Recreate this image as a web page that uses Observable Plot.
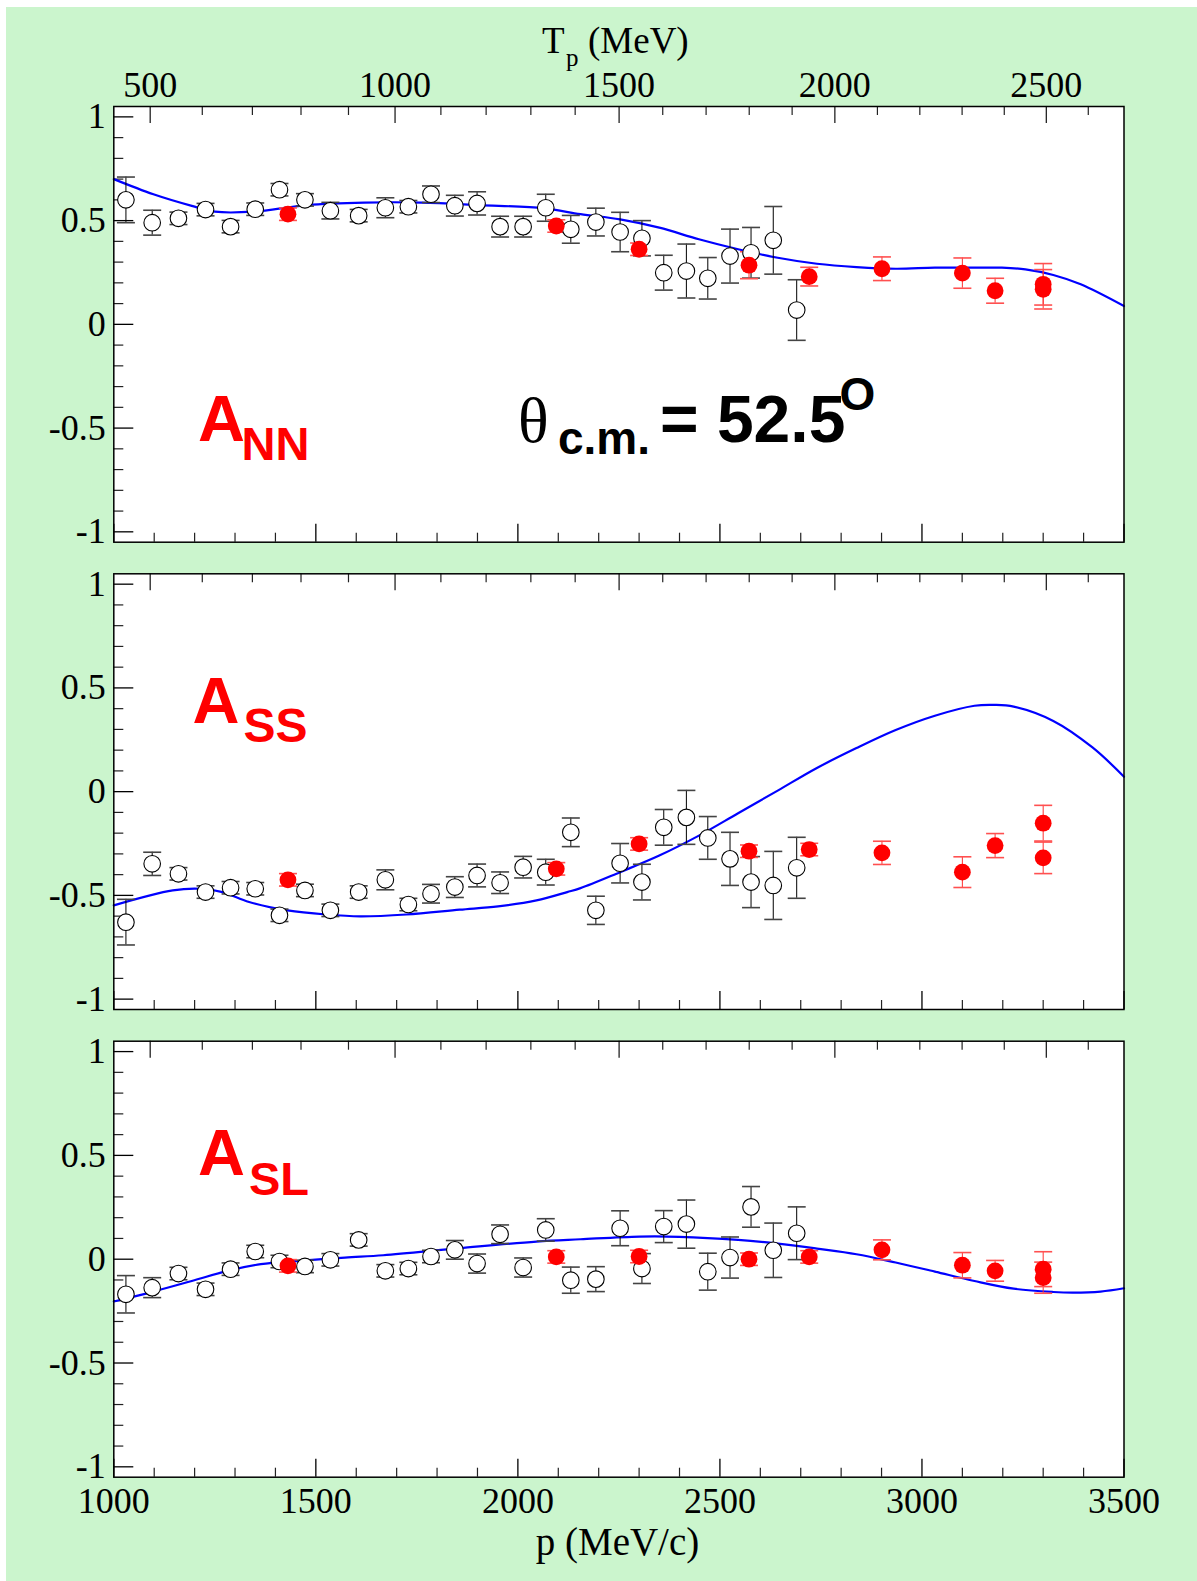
<!DOCTYPE html>
<html><head><meta charset="utf-8">
<script src="https://cdn.jsdelivr.net/npm/d3@7"></script>
<script src="https://cdn.jsdelivr.net/npm/@observablehq/plot@0.6"></script>
<style>
body{margin:0;background:#fff;}
#page{position:relative;width:1197px;height:1581px;overflow:hidden;background:#fff;}
#bg{position:absolute;left:6px;top:7px;right:0;bottom:0;background:#cbf5cd;}
.panel{position:absolute;left:0;}
</style></head><body>
<div id="page"><div id="bg"></div></div>
<script>
// ---------- data ----------
const pBlack = [1030,1095,1160,1227,1289,1350,1410,1473,1536,1606,1672,1729,1785,1844,1899,1956,2013,2069,2131,2193,2253,2307,2361,2417,2470,2525,2577,2632,2690];
const pRed = [1431,2095,2300,2572,2721,2901,3100,3181,3300,3300];

const annBlack = [0.600,0.490,0.511,0.553,0.471,0.555,0.649,0.600,0.548,0.524,0.562,0.567,0.627,0.572,0.583,0.471,0.471,0.562,0.458,0.493,0.445,0.415,0.249,0.257,0.222,0.329,0.345,0.405,0.069];
const annBlackErr = [0.11,0.06,0.03,0.03,0.03,0.03,0.03,0.03,0.04,0.03,0.048,0.03,0.04,0.05,0.056,0.05,0.05,0.065,0.067,0.067,0.095,0.085,0.084,0.13,0.10,0.13,0.122,0.163,0.146];
const annRed = [0.531,0.474,0.362,0.285,0.230,0.268,0.247,0.162,0.193,0.169];
const annRedErr = [0.03,0.03,0.03,0.065,0.045,0.057,0.073,0.06,0.10,0.095];

const assBlack = [-0.629,-0.348,-0.396,-0.484,-0.463,-0.468,-0.596,-0.476,-0.572,-0.484,-0.425,-0.544,-0.492,-0.460,-0.404,-0.439,-0.364,-0.388,-0.196,-0.572,-0.345,-0.436,-0.172,-0.124,-0.223,-0.324,-0.436,-0.452,-0.367];
const assBlackErr = [0.11,0.056,0.03,0.03,0.03,0.03,0.03,0.03,0.03,0.03,0.048,0.03,0.045,0.05,0.055,0.052,0.052,0.062,0.069,0.068,0.095,0.086,0.086,0.13,0.103,0.128,0.123,0.164,0.147];
const assRed = [-0.425,-0.372,-0.252,-0.287,-0.279,-0.295,-0.388,-0.260,-0.152,-0.319];
const assRedErr = [0.03,0.03,0.03,0.03,0.03,0.056,0.074,0.058,0.086,0.076];

const aslBlack = [-0.169,-0.137,-0.069,-0.145,-0.048,0.037,-0.011,-0.035,-0.003,0.093,-0.056,-0.045,0.013,0.045,-0.021,0.120,-0.040,0.141,-0.101,-0.096,0.149,-0.045,0.157,0.169,-0.060,0.008,0.252,0.043,0.125];
const aslBlackErr = [0.09,0.048,0.03,0.03,0.03,0.03,0.03,0.03,0.03,0.03,0.03,0.03,0.03,0.045,0.046,0.045,0.046,0.054,0.063,0.06,0.084,0.072,0.077,0.116,0.089,0.099,0.098,0.131,0.127];
const aslRed = [-0.032,0.011,0.013,0.000,0.011,0.045,-0.029,-0.056,-0.048,-0.089];
const aslRedErr = [0.03,0.03,0.03,0.03,0.03,0.048,0.061,0.05,0.084,0.075];

const annCurveP = [1000,1098,1193,1250,1345,1478,1620,1762,1904,2065,2155,2253,2350,2448,2545,2643,2740,2838,2935,3032,3130,3198,3256,3325,3393,3500];
const annCurveV = [0.70,0.627,0.571,0.543,0.543,0.575,0.587,0.587,0.575,0.559,0.531,0.506,0.466,0.41,0.362,0.321,0.292,0.276,0.268,0.273,0.273,0.273,0.265,0.238,0.193,0.088];
const assCurveP = [1000,1146,1212,1269,1335,1430,1525,1610,1724,1856,1951,2046,2122,2155,2253,2350,2448,2545,2643,2740,2838,2935,3032,3130,3178,3227,3325,3422,3500];
const assCurveV = [-0.548,-0.476,-0.468,-0.484,-0.532,-0.572,-0.592,-0.601,-0.592,-0.569,-0.553,-0.524,-0.484,-0.465,-0.388,-0.308,-0.212,-0.104,0.005,0.114,0.21,0.297,0.366,0.414,0.418,0.41,0.341,0.213,0.072];
const aslCurveP = [1000,1098,1193,1288,1364,1459,1572,1667,1856,2046,2155,2301,2399,2545,2643,2740,2838,2935,3032,3130,3227,3325,3374,3442,3500];
const aslCurveV = [-0.204,-0.156,-0.105,-0.053,-0.024,-0.008,0.008,0.019,0.053,0.085,0.096,0.109,0.108,0.093,0.075,0.051,0.024,-0.016,-0.06,-0.105,-0.142,-0.158,-0.161,-0.156,-0.14];

// ticks
const yMajor = [-1,-0.5,0,0.5,1];
const yTickLabels = ["-1","-0.5","0","0.5","1"];
const yMinor = [-0.9,-0.8,-0.7,-0.6,-0.4,-0.3,-0.2,-0.1,0.1,0.2,0.3,0.4,0.6,0.7,0.8,0.9];
const pMajor = [1000,1500,2000,2500,3000,3500];
const pTickLabels = ["1000","1500","2000","2500","3000","3500"];
const pMinor = d3.range(1100,3500,100).filter(v => v % 500 !== 0);
const tMajor = [500,1000,1500,2000,2500];
const tTickLabels = ["500","1000","1500","2000","2500"];
const tMinor = d3.range(600,2700,100).filter(v => v % 500 !== 0);

// ---------- layout ----------
const W = 1197, ML = 113.3, MR = 1197 - 1123.5;
const MP = 938.27; // proton mass, for Tp -> p
const pOfT = T => Math.sqrt((T + MP) ** 2 - MP * MP);
const SERIF = "'Liberation Serif','Times New Roman',serif";
const SANS = "'Liberation Sans',Arial,sans-serif";

const capSymbol = {draw(ctx, size) { const w = Math.sqrt(size / Math.PI); ctx.moveTo(-w, 0); ctx.lineTo(w, 0); }};

function makePanel({top, height, marginTop, marginBottom, black, blackErr, red, redErr, cp, cv, showTop, showBottom}) {
  const innerH = height - marginTop - marginBottom;
  const innerW = W - ML - MR;
  const bd = pBlack.map((p, i) => ({p, v: black[i], e: blackErr[i]}));
  const rd = pRed.map((p, i) => ({p, v: red[i], e: redErr[i]}));
  const cd = cp.map((p, i) => ({p, v: cv[i]}));
  const marks = [
    Plot.frame({fill: "white", stroke: null}),
    Plot.tickY(yMajor, {y: d => d, stroke: "black", strokeWidth: 1.3, insetRight: innerW - 20}),
    Plot.tickY(yMinor, {y: d => d, stroke: "#222", strokeWidth: 1.2, insetRight: innerW - 10}),
    Plot.tickX(pMajor, {x: d => d, stroke: "black", strokeWidth: 1.3, insetTop: innerH - 18}),
    Plot.tickX(pMinor, {x: d => d, stroke: "#222", strokeWidth: 1.2, insetTop: innerH - 9}),
    Plot.tickX(tMajor, {x: pOfT, stroke: "#222", strokeWidth: 1.3, insetBottom: innerH - 17}),
    Plot.tickX(tMinor, {x: pOfT, stroke: "#222", strokeWidth: 1.2, insetBottom: innerH - 9}),
    Plot.line(cd, {x: "p", y: "v", stroke: "#0000ff", strokeWidth: 2.2, curve: "catmull-rom"}),
    Plot.ruleX(bd, {x: "p", y1: d => d.v - d.e, y2: d => d.v + d.e, stroke: "black", strokeWidth: 1}),
    Plot.dot(bd, {x: "p", y: d => d.v + d.e, symbol: capSymbol, r: 9, fill: "none", stroke: "#444", strokeWidth: 1.6}),
    Plot.dot(bd, {x: "p", y: d => d.v - d.e, symbol: capSymbol, r: 9, fill: "none", stroke: "#444", strokeWidth: 1.6}),
    Plot.ruleX(rd, {x: "p", y1: d => d.v - d.e, y2: d => d.v + d.e, stroke: "#ff3030", strokeWidth: 1}),
    Plot.dot(rd, {x: "p", y: d => d.v + d.e, symbol: capSymbol, r: 9, fill: "none", stroke: "#ff5050", strokeWidth: 1.6}),
    Plot.dot(rd, {x: "p", y: d => d.v - d.e, symbol: capSymbol, r: 9, fill: "none", stroke: "#ff5050", strokeWidth: 1.6}),
    Plot.dot(bd, {x: "p", y: "v", r: 8.3, fill: "white", stroke: "black", strokeWidth: 1.1}),
    Plot.dot(rd, {x: "p", y: "v", r: 8.4, fill: "#ff0000", stroke: null}),
    Plot.frame({stroke: "black", strokeWidth: 1.5}),
    Plot.text(yMajor, {y: d => d, text: (d, i) => yTickLabels[i], frameAnchor: "left", textAnchor: "end", lineAnchor: "middle", dx: -8, fontSize: 36, fontFamily: SERIF, fill: "black"})
  ];
  if (showTop) marks.push(Plot.text(tMajor, {x: pOfT, text: (d, i) => tTickLabels[i], frameAnchor: "top", lineAnchor: "bottom", dy: -10, fontSize: 36, fontFamily: SERIF, fill: "black"}));
  if (showBottom) marks.push(Plot.text(pMajor, {x: d => d, text: (d, i) => pTickLabels[i], frameAnchor: "bottom", lineAnchor: "bottom", dy: 36, fontSize: 36, fontFamily: SERIF, fill: "black"}));
  const svg = Plot.plot({
    width: W, height, marginLeft: ML, marginRight: MR, marginTop, marginBottom,
    style: {background: "transparent", overflow: "visible"},
    x: {domain: [1000, 3500], axis: null},
    y: {domain: [-1.05, 1.05], axis: null},
    marks
  });
  svg.classList.add("panel");
  svg.style.top = top + "px";
  svg.style.position = "absolute";
  document.getElementById("page").appendChild(svg);
  return svg;
}

function addText(svg, items) {
  const g = d3.select(svg).append("g");
  for (const it of items) {
    g.append("text").attr("x", it.x).attr("y", it.y)
      .attr("font-family", it.family || SANS).attr("font-size", it.size)
      .attr("font-weight", it.weight || "normal").attr("fill", it.fill || "black")
      .attr("text-anchor", it.anchor || "start").text(it.text);
  }
}

const s1 = makePanel({top: 0, height: 560, marginTop: 106, marginBottom: 18.3, black: annBlack, blackErr: annBlackErr, red: annRed, redErr: annRedErr, cp: annCurveP, cv: annCurveV, showTop: true});
const s2 = makePanel({top: 560, height: 467, marginTop: 13.3, marginBottom: 18, black: assBlack, blackErr: assBlackErr, red: assRed, redErr: assRedErr, cp: assCurveP, cv: assCurveV});
const s3 = makePanel({top: 1027, height: 554, marginTop: 13.7, marginBottom: 104.3, black: aslBlack, blackErr: aslBlackErr, red: aslRed, redErr: aslRedErr, cp: aslCurveP, cv: aslCurveV, showBottom: true});

// axis titles
addText(s1, [
  {x: 542, y: 53, text: "T", size: 37, family: SERIF},
  {x: 566, y: 66, text: "p", size: 25, family: SERIF},
  {x: 588, y: 53, text: "(MeV)", size: 37, family: SERIF},
  // panel labels
  {x: 198, y: 440.7, text: "A", size: 65, weight: "bold", fill: "#ff0000"},
  {x: 241.5, y: 460, text: "NN", size: 47, weight: "bold", fill: "#ff0000"},
  {x: 518, y: 441.7, text: "θ", size: 64, family: SERIF},
  {x: 558, y: 454, text: "c.m.", size: 46, weight: "bold"},
  {x: 660, y: 441.7, text: "= 52.5", size: 66, weight: "bold"},
  {x: 839.5, y: 410, text: "O", size: 46, weight: "bold"}
]);
addText(s2, [
  {x: 192.5, y: 163.3, text: "A", size: 65, weight: "bold", fill: "#ff0000"},
  {x: 243.5, y: 181.7, text: "SS", size: 48, weight: "bold", fill: "#ff0000"}
]);
addText(s3, [
  {x: 198, y: 148, text: "A", size: 65, weight: "bold", fill: "#ff0000"},
  {x: 249, y: 168, text: "SL", size: 47, weight: "bold", fill: "#ff0000"},
  {x: 617.5, y: 528, text: "p (MeV/c)", size: 39, family: SERIF, anchor: "middle"}
]);
</script>
</body></html>
